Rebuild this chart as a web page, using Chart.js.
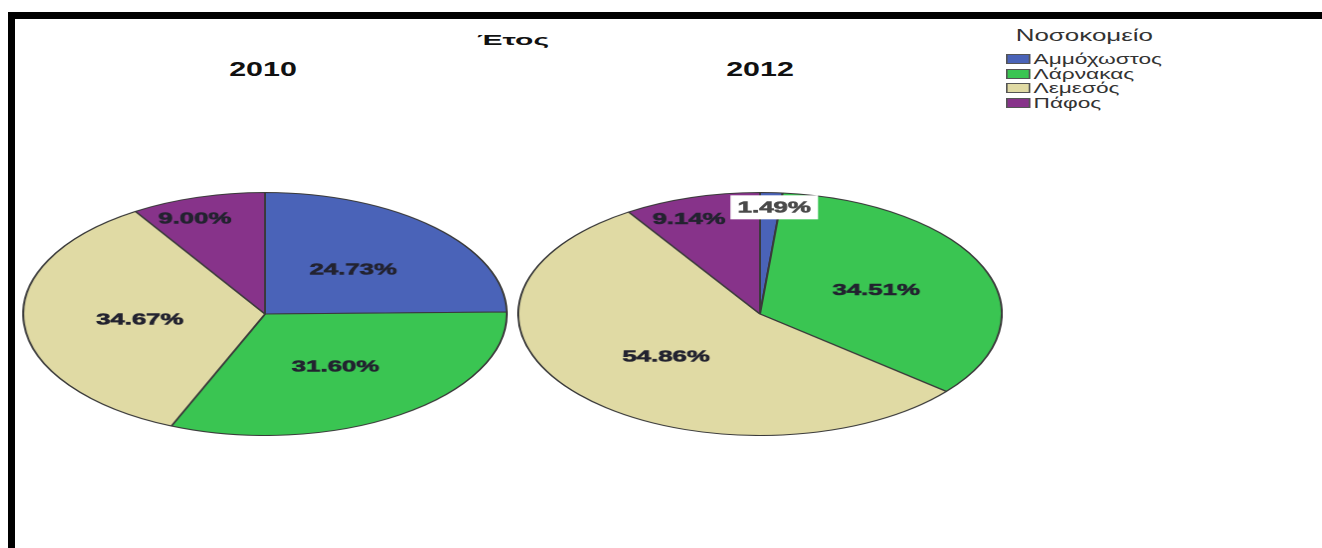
<!DOCTYPE html>
<html><head><meta charset="utf-8">
<script src="https://cdn.jsdelivr.net/npm/chart.js@4/dist/chart.umd.min.js"></script>
<style>
html,body{margin:0;padding:0;background:#fff;width:1322px;height:548px;overflow:hidden;font-family:"Liberation Sans",Arial,sans-serif;}
.bt{position:absolute;left:8px;top:12px;width:1314px;height:7px;background:#000;}
.bl{position:absolute;left:8px;top:12px;width:7px;height:536px;background:#000;}
.txt{position:absolute;white-space:nowrap;line-height:1;color:#111;}
.pie{position:absolute;width:244px;height:244px;transform:scaleX(1.99);transform-origin:50% 50%;}
.legend{position:absolute;left:1006px;top:0;width:100px;height:120px;transform:scaleX(1.62);transform-origin:0 0;}
.legend .lt{position:absolute;left:6px;top:28px;font-size:16px;line-height:1;color:#333;white-space:nowrap;}
.legend .box{position:absolute;left:0;width:15px;height:10px;box-sizing:border-box;border:1px solid #555;}
.legend .lab{position:absolute;left:17px;font-size:14px;line-height:1;color:#333;white-space:nowrap;}
</style>
</head><body>
<div class="bt"></div><div class="bl"></div>
<div id="mainTitle" class="txt" style="left:513px;top:32px;font-size:15px;font-weight:bold;transform:translateX(-50%) scaleX(2);"></div>
<div id="t0" class="txt" style="left:263px;top:60px;font-size:19.5px;font-weight:bold;transform:translateX(-50%) scaleX(1.56);"></div>
<div id="t1" class="txt" style="left:760px;top:60px;font-size:19.5px;font-weight:bold;transform:translateX(-50%) scaleX(1.56);"></div>
<div class="pie" style="left:143px;top:191.5px;"><canvas id="c0" width="244" height="244"></canvas></div>
<div class="pie" style="left:638px;top:191.5px;"><canvas id="c1" width="244" height="244"></canvas></div>
<div class="legend" id="legend"></div>
<script>
const chartTitle = 'Έτος';
const legendTitle = 'Νοσοκομείο';
const categories = ['Αμμόχωστος', 'Λάρνακας', 'Λεμεσός', 'Πάφος'];
const years = ['2010', '2012'];
const values2010 = [24.73, 31.60, 34.67, 9.00];
const values2012 = [1.49, 34.51, 54.86, 9.14];
const sliceColors = ['#4a63b8', '#3ac552', '#e0daa4', '#87338a'];

document.getElementById('mainTitle').textContent = chartTitle;
document.getElementById('t0').textContent = years[0];
document.getElementById('t1').textContent = years[1];

const lg = document.getElementById('legend');
const lt = document.createElement('div'); lt.className = 'lt'; lt.textContent = legendTitle; lg.appendChild(lt);
categories.forEach((c, i) => {
  const base = 64 + i * 14.5;
  const b = document.createElement('div'); b.className = 'box';
  b.style.top = (base - 10) + 'px'; b.style.background = sliceColors[i]; lg.appendChild(b);
  const l = document.createElement('div'); l.className = 'lab';
  l.style.top = (base - 11.85) + 'px'; l.textContent = c; lg.appendChild(l);
});

const labelPlugin = {
  id: 'pctLabels',
  afterDatasetsDraw(chart) {
    const ctx = chart.ctx;
    const meta = chart.getDatasetMeta(0);
    const data = chart.data.datasets[0].data;
    meta.data.forEach((arc, i) => {
      const p = arc.getProps(['x', 'y', 'startAngle', 'endAngle', 'outerRadius'], true);
      const v = data[i];
      const boxed = v < 5;
      let mid = (p.startAngle + p.endAngle) / 2;
      let f = 0.52;
      if (boxed) { f = 0.88; mid += 0.02; }
      else if (v < 10) { f = 0.84; mid -= 0.07; }
      const x = p.x + Math.cos(mid) * p.outerRadius * f;
      const y = p.y + Math.sin(mid) * p.outerRadius * f;
      const txt = v.toFixed(2) + '%';
      ctx.save();
      ctx.translate(x, y);
      ctx.scale(0.81, 1);
      ctx.font = 'bold 16px "Liberation Sans", Arial, sans-serif';
      ctx.textAlign = 'center';
      ctx.textBaseline = 'middle';
      let col = '#232330';
      if (boxed) {
        const w = ctx.measureText(txt).width + 9;
        ctx.fillStyle = '#ffffff';
        ctx.fillRect(-w / 2, -12, w, 24);
        col = '#4a4a4a';
      }
      ctx.fillStyle = col;
      ctx.strokeStyle = col;
      ctx.lineWidth = 0.6;
      ctx.fillText(txt, 0, 1);
      ctx.strokeText(txt, 0, 1);
      ctx.restore();
    });
  }
};

function makePie(id, values) {
  return new Chart(document.getElementById(id), {
    type: 'pie',
    data: {
      labels: categories,
      datasets: [{ data: values, backgroundColor: sliceColors, borderColor: '#3a3a3a', borderWidth: 1 }]
    },
    options: {
      responsive: false,
      devicePixelRatio: 2,
      animation: false,
      layout: { padding: 0 },
      plugins: { legend: { display: false }, tooltip: { enabled: false }, title: { display: false } }
    },
    plugins: [labelPlugin]
  });
}
makePie('c0', values2010);
makePie('c1', values2012);
</script>
</body></html>
